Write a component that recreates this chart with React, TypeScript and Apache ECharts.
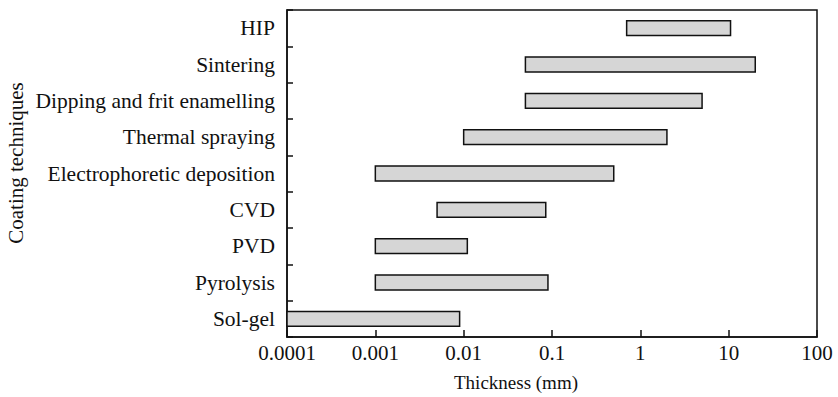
import React, { useEffect, useRef } from "react";
import * as echarts from "echarts";

const categories = [
  "Sol-gel",
  "Pyrolysis",
  "PVD",
  "CVD",
  "Electrophoretic deposition",
  "Thermal spraying",
  "Dipping and frit enamelling",
  "Sintering",
  "HIP",
];
const rangeStart = [0.0001, 0.001, 0.001, 0.005, 0.001, 0.01, 0.05, 0.05, 0.7];
const rangeEnd = [0.009, 0.09, 0.011, 0.085, 0.5, 2, 5, 20, 10.5];
const xTickLabels = ["0.0001", "0.001", "0.01", "0.1", "1", "10", "100"];

const FONT = "'Liberation Serif', 'Times New Roman', serif";

export default function App() {
  const ref = useRef<HTMLDivElement>(null);
  useEffect(() => {
    if (!ref.current) return;
    const chart = echarts.init(ref.current, undefined, { renderer: "svg" });
    const data = categories.map((c, i) => [i, rangeStart[i], rangeEnd[i]]);
    chart.setOption({
      animation: false,
      backgroundColor: "#fff",
      grid: {
        left: 287,
        top: 10,
        right: 21,
        bottom: 60,
        show: true,
        borderColor: "#111",
        borderWidth: 1.5,
        backgroundColor: "transparent",
      },
      xAxis: {
        type: "log",
        logBase: 10,
        min: 0.0001,
        max: 100,
        axisLine: { show: true, lineStyle: { color: "#111", width: 1.5 } },
        axisTick: { show: true, inside: true, length: 7, lineStyle: { color: "#111", width: 1.5 } },
        minorTick: { show: false },
        splitLine: { show: false },
        axisLabel: {
          color: "#111",
          fontFamily: FONT,
          fontSize: 21,
          margin: 5,
          formatter: (v: number) => {
            const idx = Math.round(Math.log10(v)) + 4;
            return xTickLabels[idx] ?? "";
          },
        },
      },
      yAxis: {
        type: "category",
        data: categories,
        axisLine: { show: true, lineStyle: { color: "#111", width: 1.5 } },
        axisTick: { show: true, inside: true, length: 6, alignWithLabel: false, lineStyle: { color: "#111", width: 1.5 } },
        splitLine: { show: false },
        axisLabel: {
          color: "#111",
          fontFamily: FONT,
          fontSize: 21.5,
          margin: 12,
        },
      },
      graphic: [
        {
          type: "text",
          x: 516,
          y: 382,
          style: {
            text: "Thickness (mm)",
            fontFamily: FONT,
            fontSize: 19,
            fill: "#111",
            align: "center",
            verticalAlign: "middle",
          },
        },
        {
          type: "text",
          x: 16,
          y: 163,
          rotation: Math.PI / 2,
          style: {
            text: "Coating techniques",
            fontFamily: FONT,
            fontSize: 21,
            fill: "#111",
            align: "center",
            verticalAlign: "middle",
          },
        },
      ],
      series: [
        {
          type: "custom",
          encode: { x: [1, 2], y: 0 },
          data,
          renderItem: (params: any, api: any) => {
            const cat = api.value(0);
            const s = api.coord([api.value(1), cat]);
            const e = api.coord([api.value(2), cat]);
            const h = api.size([0, 1])[1] * 0.41;
            return {
              type: "rect",
              shape: { x: s[0], y: s[1] - h / 2, width: e[0] - s[0], height: h },
              style: { fill: "#d6d6d6", stroke: "#111", lineWidth: 1.5 },
            };
          },
        },
      ],
    });
    return () => chart.dispose();
  }, []);
  return <div ref={ref} style={{ width: 838, height: 397, position: "absolute", left: 0, top: 0 }} />;
}
